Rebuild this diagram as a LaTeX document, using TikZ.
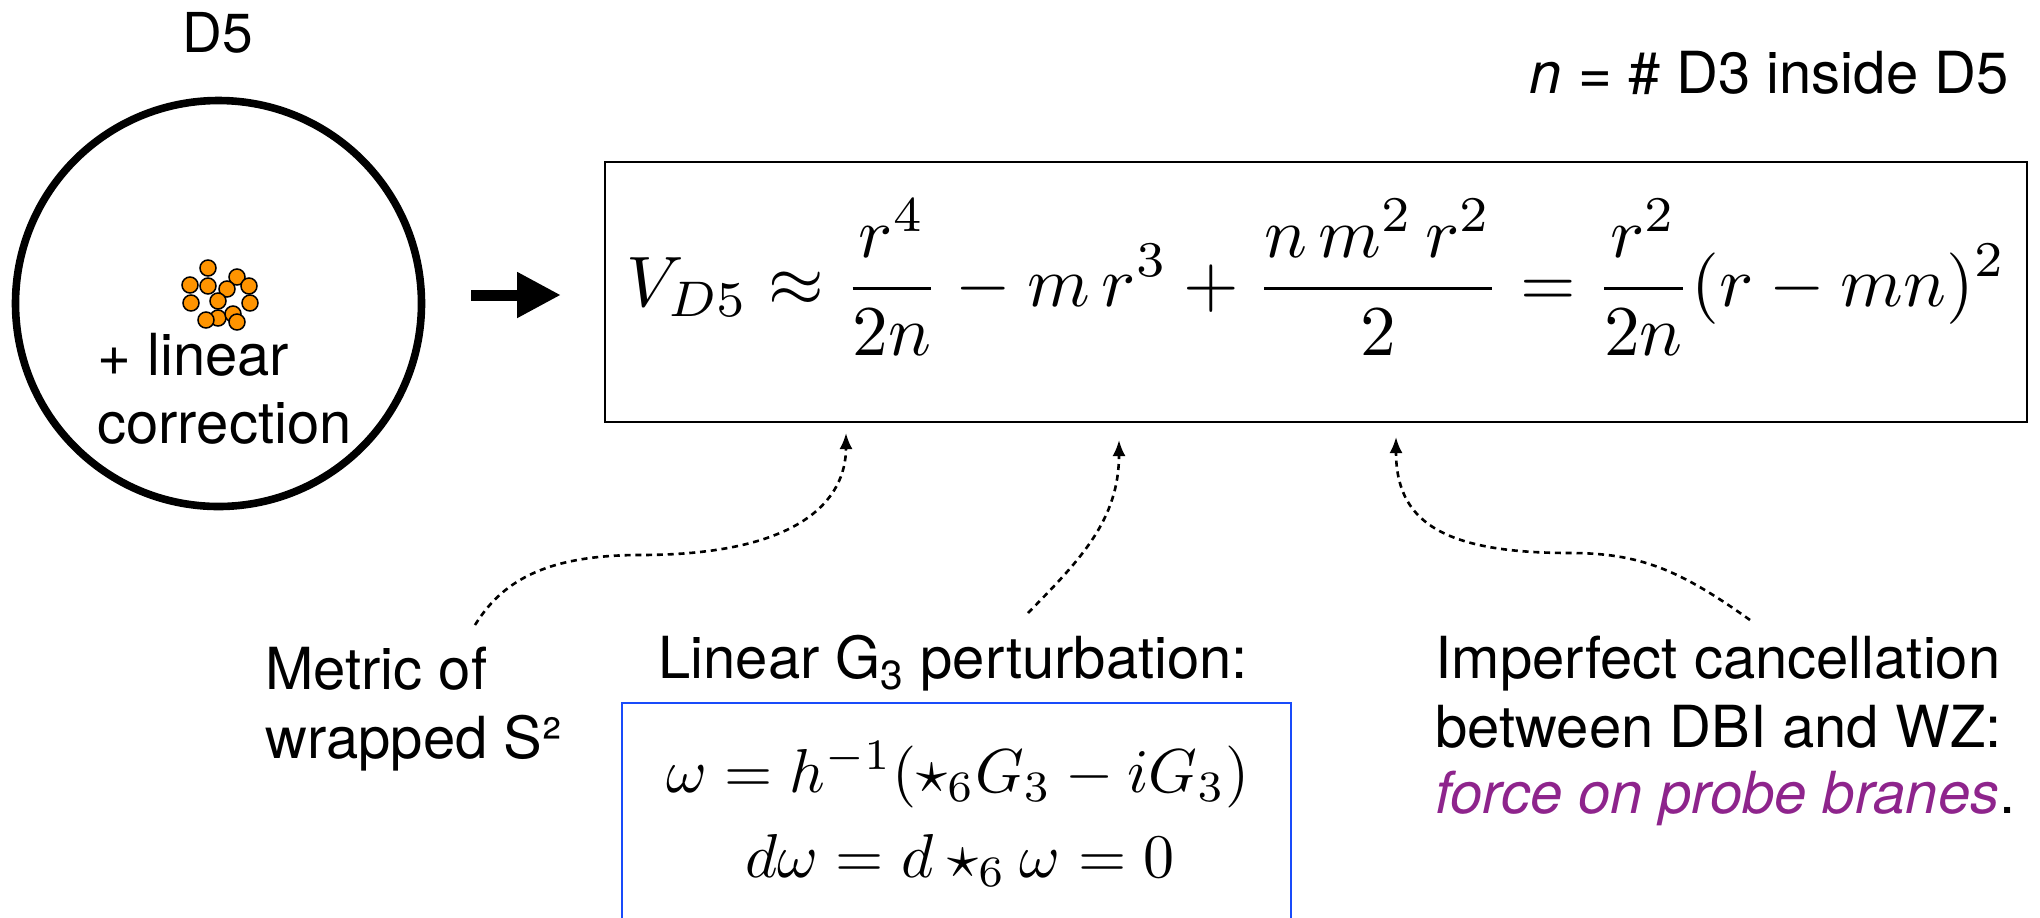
\documentclass[tikz,border=0pt]{standalone}
\usepackage[no-math]{fontspec}
\setmainfont{TeX Gyre Heros}
\usepackage{amsmath}
\usepackage{graphicx}
\usetikzlibrary{arrows.meta}
\definecolor{dotorange}{RGB}{255,148,0}
\definecolor{boxblue}{RGB}{25,75,250}
\definecolor{forcepurple}{RGB}{142,36,140}
\begin{document}
\begin{tikzpicture}[x=0.5pt,y=-0.5pt,
  txt/.style={font=\fontsize{29}{34}\selectfont, inner sep=0pt},
  dotb/.style={circle, draw=black, fill=dotorange, line width=0.75pt, minimum size=8pt, inner sep=0pt},
  dlink/.style={line width=1.3pt, dash pattern=on 3pt off 2.4pt, -{Latex[length=8pt,width=6.5pt]}},
]
\useasboundingbox (0,0) rectangle (2040,917);
\clip (0,0) rectangle (2040,917);

% D5 brane
\node[txt, font=\fontsize{27.5}{32}\selectfont, anchor=base] (d5lbl) at (218,52) {D5};
\node[circle, draw, line width=3.8pt, minimum size=203pt, inner sep=0pt] (d5) at (218.5,303.5) {};
\foreach \p [count=\i] in {(208,268),(237,277),(190,285),(249,286),(208,286),(227,289),(191,303),(250,303),(218,301),(218,318),(233,314),(206,320),(237,322)}
  \node[dotb] (dot\i) at \p {};
\node[txt, anchor=base west] (lin1) at (97,375) {+ linear};
\node[txt, anchor=base west] (lin2) at (97,443) {correction};

% thick arrow
\coordinate (a0) at (471,295);
\coordinate (a1) at (561,295);
\draw[line width=5.5pt, -{Triangle[length=22pt,width=21.5pt]}] (a0) -- (a1);

% main equation box
\node[draw, line width=1.3pt, minimum width=711pt, minimum height=130pt, inner sep=0pt] (eqbox) at (1316,292) {};
\node[inner sep=0pt] (eq) at (1316.5,277.5) {\resizebox{689.5pt}{!}{$\displaystyle V_{D5} \approx \frac{r^4}{2n} - m\,r^3 + \frac{n\,m^2\,r^2}{2} = \frac{r^2}{2n}(r-mn)^2$}};

% top right definition
\node[txt, anchor=base east] (ndef) at (2009,93) {\textit{n} = \# D3 inside D5};

% left label
\node[txt, anchor=base west] (met1) at (265,689) {Metric of};
\node[txt, anchor=base west] (met2) at (265,758) {wrapped S²};

% middle label and blue box
\node[txt, anchor=base west] (lg) at (658,678) {Linear G\textsubscript{3} perturbation:};
\node[draw=boxblue, line width=1.1pt, minimum width=334.5pt, minimum height=130pt, inner sep=0pt, anchor=north west] (gbox) at (621,702) {};
\node[anchor=base, inner sep=0pt] (w1) at (958,792) {\scalebox{3.1}{$\omega = h^{-1}(\star_6 G_3 - iG_3)$}};
\node[anchor=base, inner sep=0pt] (w2) at (960,877) {\scalebox{3.1}{$d\omega = d \star_6 \omega = 0$}};

% right label
\node[txt, anchor=base west] (imp1) at (1435,678) {Imperfect cancellation};
\node[txt, anchor=base west] (imp2) at (1435,747) {between DBI and WZ:};
\node[txt, anchor=base west] (imp3) at (1435,813) {\textcolor{forcepurple}{\itshape force on probe branes}.};

% dotted connectors
\coordinate (s1) at (475,625);
\coordinate (t1) at (846,433);
\coordinate (s2) at (1028,613);
\coordinate (t2) at (1119,440);
\coordinate (s3) at (1750,620);
\coordinate (t3) at (1396,437);
\draw[dlink] (s1) .. controls (500,585) and (540,555) .. (640,555) .. controls (800,555) and (846,500) .. (t1);
\draw[dlink] (s2) .. controls (1080,560) and (1119,520) .. (t2);
\draw[dlink] (s3) .. controls (1680,570) and (1640,553) .. (1570,553) .. controls (1440,553) and (1396,520) .. (t3);
\end{tikzpicture}
\end{document}
